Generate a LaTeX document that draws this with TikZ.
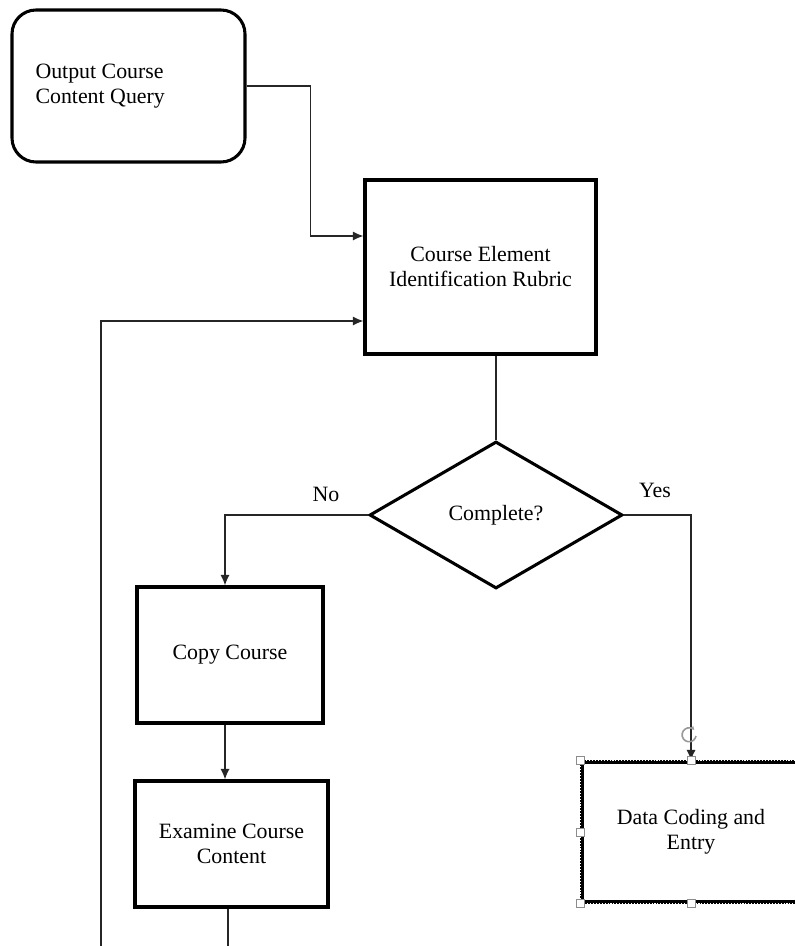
\documentclass[tikz,border=0pt]{standalone}
\usepackage{fontspec}
\setmainfont{Liberation Serif}
\usetikzlibrary{shapes.geometric,arrows.meta}
\begin{document}
\begin{tikzpicture}[x=0.75pt,y=-0.75pt,
  every node/.style={font=\fontsize{16.4pt}{18.75pt}\selectfont},
  boxst/.style={draw=black,line width=2.3pt,rectangle,inner sep=0pt,align=center},
  conn/.style={draw=black!85,line width=1.1pt},
  arr/.style={conn,-{Latex[length=8pt,width=7pt]}},
  handle/.style={draw=black!45,fill=white,line width=0.7pt,minimum size=6pt,inner sep=0pt,rectangle}]
\useasboundingbox (0,0) rectangle (795,946);
\node[boxst,rounded corners=18pt,minimum width=174.75pt,minimum height=114pt,
      align=flush left,text width=139.5pt] (q) at (128.5,86) {Output Course\\Content Query};
\node[boxst,minimum width=173.25pt,minimum height=130.5pt] (ce) at (480.5,267) {Course Element\\Identification Rubric};
\node[draw=black,line width=2.3pt,diamond,aspect=1.72,minimum width=189.75pt,minimum height=110.25pt,inner sep=0pt] (dia) at (496,515) {Complete?};
\node[boxst,minimum width=139.5pt,minimum height=102pt] (cc) at (230,655) {Copy Course};
\node[boxst,minimum width=144.75pt,minimum height=94.5pt] (ex) at (231.5,844) {Examine Course\\Content};
\node[draw=black,line width=2.3pt,rectangle,inner sep=0pt,align=center,minimum width=163.5pt,minimum height=105pt] (dc) at (691,832) {Data Coding and\\Entry};
\draw[white,line width=0.9pt,dash pattern=on 0.8pt off 1.4pt] (dc.north west) rectangle (dc.south east);
\node (no) at (326,494) {No};
\node (yes) at (655,490) {Yes};
\coordinate (loopstart) at (101,946);
\coordinate (exend) at (228,946);
\coordinate (colx) at (225,0);
% connectors
\draw[arr] (q.east) -- ++(64,0) |- ([yshift=23.25pt]ce.west);
\draw[arr] (loopstart) |- ([yshift=-40.5pt]ce.west);
\draw[conn] (ce.south -| dia.north) -- (dia.north);
\draw[arr] (dia.west) -| (colx |- cc.north);
\draw[arr] (colx |- cc.south) -- (colx |- ex.north);
\draw[conn] (ex.south -| exend) -- (exend);
\draw[arr] (dia.east) -| (dc.north);
% selection handles
\node[handle] (h1) at (dc.north west) {};
\node[handle] (h2) at (dc.north) {};
\node[handle] (h3) at (dc.west) {};
\node[handle] (h4) at (dc.south west) {};
\node[handle] (h5) at (dc.south) {};
\draw[black!40,line width=1.2pt,-{Latex[length=3pt,width=3pt]}] (696,736) arc[start angle=10,end angle=320,radius=7];
\end{tikzpicture}
\end{document}
